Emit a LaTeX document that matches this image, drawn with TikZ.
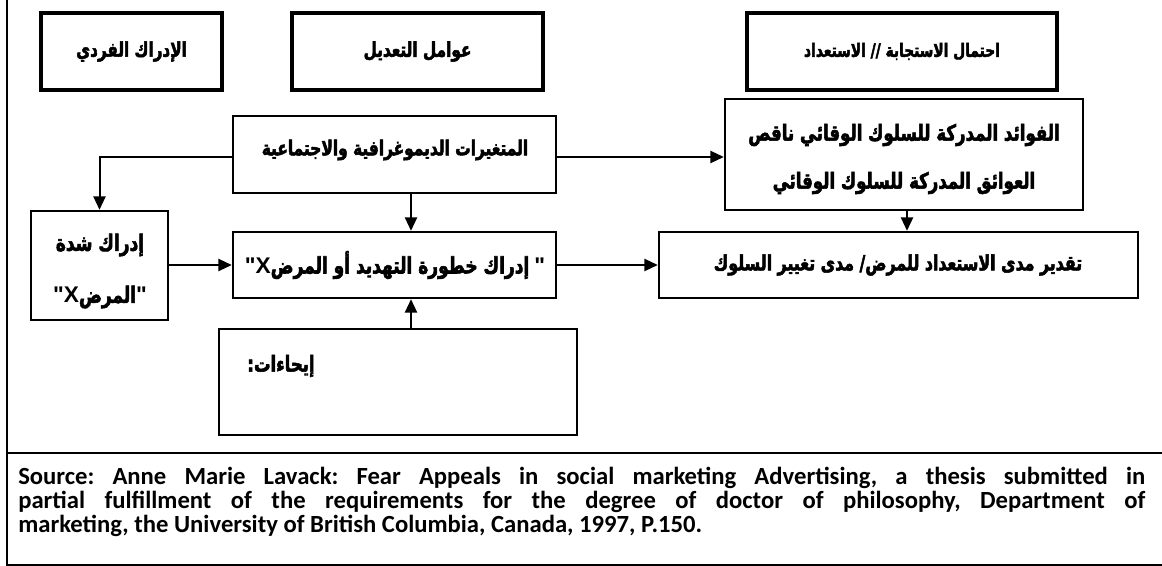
\documentclass[tikz,border=0pt]{standalone}
\usepackage{fontspec}
\setmainfont{Carlito}
\newfontfamily\arabicfont[Script=Arabic, FakeStretch=0.75, FakeBold=2.4]{DejaVu Sans Bold}
\newfontfamily\latinbold{Liberation Sans Bold}
\TeXXeTstate=1
\usetikzlibrary{arrows.meta,fit}

% Arabic phrase, heavy, right to left
\newcommand{\artxt}[1]{{\arabicfont\beginR #1\endR}}
% quoted variable mark
\newcommand{\qx}{{\latinbold "X}}
\newcommand{\qq}{{\latinbold "}}

\tikzset{
  headbox/.style={draw, line width=3pt, inner sep=0pt},
  flowbox/.style={draw, line width=1.8pt, inner sep=0pt},
  label/.style={inner sep=0pt, font=\fontsize{#1}{15}\selectfont},
  label/.default=13,
  flow/.style={line width=1.5pt, -{Triangle[length=10pt,width=9pt]}},
  frame/.style={line width=1.2pt},
}

\begin{document}
\begin{tikzpicture}[x=0.75pt,y=-0.75pt]
\useasboundingbox (0,0) rectangle (1162,566);

% outer frame and source panel
\draw[frame] (7,0) -- (7,565) -- (1162,565);
\draw[frame] (7,453) -- (1162,453);

% heading boxes
\node[headbox, fit={(41,13) (222,90)}] (hInd) {};
\node[headbox, fit={(292,13) (543,90)}] (hMod) {};
\node[headbox, fit={(747,13) (1057,90)}] (hLik) {};
\node[label=15.2] at (hInd.center) {\artxt{الإدراك الفردي}};
\node[label=15.3] at (hMod.center) {\artxt{عوامل التعديل}};
\node[label=13.8] at (hLik.center) {\artxt{احتمال الاستجابة // الاستعداد}};

% model boxes
\node[flowbox, fit={(233,116) (556,193)}] (demo) {};
\node[flowbox, fit={(725,99) (1083,210)}] (bene) {};
\node[flowbox, fit={(31,211) (168,320)}] (sev) {};
\node[flowbox, fit={(233,232) (556,298)}] (threat) {};
\node[flowbox, fit={(659,232) (1138,298)}] (ready) {};
\node[flowbox, fit={(219,329) (577,435)}] (cues) {};

% box texts
\node[label=15.4] at (395,150) {\artxt{المتغيرات الديموغرافية والاجتماعية}};
\node[label=16.6] at (904,135) {\artxt{الفوائد المدركة للسلوك الوقائي ناقص}};
\node[label=16.6] at (904,183) {\artxt{العوائق المدركة للسلوك الوقائي}};
\node[label=17] at (100,245) {\artxt{إدراك شدة}};
\node[label=17] at (100,297) {\qx\artxt{المرض}\qq};
\node[label=17] at (395,265) {\qx\artxt{إدراك خطورة التهديد أو المرض} \qq};
\node[label=15.8] at (898,265) {\artxt{تقدير مدى الاستعداد للمرض/ مدى تغيير السلوك}};
\node[label=16.5] at (281,366) {\artxt{إيحاءات:}};

% connectors
\coordinate (demoL) at (demo.west |- 0,157);
\coordinate (demoR) at (demo.east |- 0,157);
\draw[flow] (demoL) -| (sev.north);
\draw[flow] (demoR) -- (demoR -| bene.west);
\draw[flow] (demo.south -| 411,0) -- (threat.north -| 411,0);
\draw[flow] (cues.north -| 411,0) -- (threat.south -| 411,0);
\draw[flow] (sev.east |- threat.west) -- (threat.west);
\draw[flow] (threat.east) -- (ready.west);
\draw[flow] (bene.south -| 907,0) -- (ready.north -| 907,0);

% source note
\node[anchor=north west, inner sep=0pt, text width=1127*0.75pt, align=justify,
      font=\bfseries\fontsize{18.5}{18}\selectfont] (src) at (18,467)
  {\lineskiplimit=-20pt\frenchspacing
   Source: Anne Marie Lavack: Fear Appeals in social marketing Advertising, a thesis submitted in\linebreak
   partial fulfillment of the requirements for the degree of doctor of philosophy, Department of\linebreak
   marketing, the University of British Columbia, Canada, 1997, P.150.};
\end{tikzpicture}
\end{document}
